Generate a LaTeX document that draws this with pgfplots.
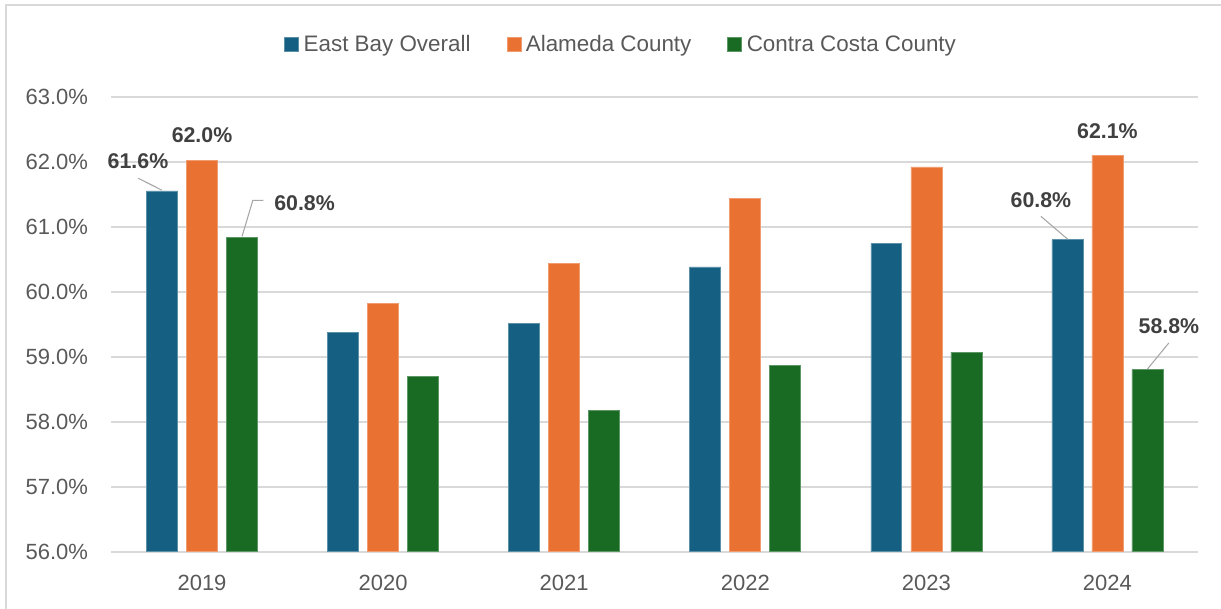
\documentclass[border=0pt]{standalone}
\usepackage{pgfplots}
\pgfplotsset{compat=1.18}
\usepackage{fontspec}
\setmainfont{Liberation Sans}

\definecolor{ebay}{HTML}{156082}
\definecolor{alam}{HTML}{E97132}
\definecolor{ccc}{HTML}{196B24}
\definecolor{gridc}{HTML}{D9D9D9}
\definecolor{txt}{HTML}{595959}
\definecolor{lbl}{HTML}{404040}
\definecolor{lead}{HTML}{A6A6A6}

\tikzset{
  lab/.style={font=\bfseries\fontsize{16}{19}\selectfont, text=lbl, inner sep=0pt},
  leader/.style={lead, line width=0.8pt},
}

\begin{document}
\begin{tikzpicture}
\useasboundingbox (0,0) rectangle (915.75pt,456.75pt);
% chart frame (only top and left edges are visible in the crop)
\draw[gridc, line width=1.5pt] (4.5pt,0) -- (4.5pt,453pt) -- (915.75pt,453pt);

\begin{axis}[
    at={(83.6pt,43pt)}, anchor=south west,
    width=814.9pt, height=341.25pt, scale only axis,
    clip mode=individual,
    ymin=56, ymax=63, ytick={56,...,63},
    xmin=-0.5, xmax=5.5, xtick={0,...,5},
    xticklabels={2019,2020,2021,2022,2023,2024},
    /pgf/number format/assume math mode=true,
    yticklabel={\pgfmathprintnumber[fixed,fixed zerofill,precision=1]{\tick}\%},
    ymajorgrids,
    major grid style={gridc, line width=1.3pt},
    axis line style={draw=none},
    major tick length=0pt,
    tick style={draw=none},
    yticklabel style={font=\fontsize{16.5}{20}\selectfont, text=txt, anchor=east, inner sep=0pt, xshift=-17.4pt},
    xticklabel style={font=\fontsize{16.5}{20}\selectfont, text=txt, anchor=north, inner sep=0pt, yshift=-17.5pt},
    ybar, bar width=0.171,
    legend columns=3,
    legend style={at={(0.4694,1.115)}, anchor=center, draw=none, fill=none,
      font=\fontsize{16.8}{20}\selectfont, text=txt,
      /tikz/every even column/.append style={column sep=25pt},
      /tikz/every odd column/.append style={column sep=1.5pt}},
    legend image code/.code={\fill[#1] (0pt,-5.25pt) rectangle (10.5pt,5.25pt);},
  ]

  \addplot[bar shift=-0.221, fill=ebay, draw=ebay!70!white, line width=0.5pt]
    coordinates {(0,61.55) (1,59.37) (2,59.51) (3,60.38) (4,60.74) (5,60.80)};
  \addplot[bar shift=0, fill=alam, draw=alam!70!white, line width=0.5pt]
    coordinates {(0,62.02) (1,59.82) (2,60.44) (3,61.44) (4,61.92) (5,62.10)};
  \addplot[bar shift=0.221, fill=ccc, draw=ccc!70!white, line width=0.5pt]
    coordinates {(0,60.84) (1,58.70) (2,58.17) (3,58.87) (4,59.07) (5,58.80)};
  \legend{East Bay Overall, Alameda County, Contra Costa County}

  % data labels, 2019
  \draw[leader] ([shift={(-17.8pt,9.5pt)}]axis cs:-0.221,61.55) -- ([shift={(0pt,0.5pt)}]axis cs:-0.221,61.55);
  \node[lab] at ([shift={(-18pt,22pt)}]axis cs:-0.221,61.55) {61.6\%};
  \node[lab] at ([shift={(0pt,18.75pt)}]axis cs:0,62.02) {62.0\%};
  \draw[leader] ([shift={(0pt,0.5pt)}]axis cs:0.221,60.84) -- ([shift={(8.1pt,27.5pt)}]axis cs:0.221,60.84) -- ([shift={(16.1pt,27.5pt)}]axis cs:0.221,60.84);
  \node[lab] at ([shift={(46.9pt,25.7pt)}]axis cs:0.221,60.84) {60.8\%};

  % data labels, 2024
  \draw[leader] ([shift={(-19.9pt,17.5pt)}]axis cs:4.779,60.80) -- ([shift={(0pt,0.5pt)}]axis cs:4.779,60.80);
  \node[lab] at ([shift={(-19.9pt,30pt)}]axis cs:4.779,60.80) {60.8\%};
  \node[lab] at ([shift={(0pt,18.2pt)}]axis cs:5,62.10) {62.1\%};
  \draw[leader] ([shift={(16pt,20pt)}]axis cs:5.221,58.80) -- ([shift={(0pt,0.5pt)}]axis cs:5.221,58.80);
  \node[lab] at ([shift={(16.1pt,32.5pt)}]axis cs:5.221,58.80) {58.8\%};
\end{axis}
\end{tikzpicture}
\end{document}
